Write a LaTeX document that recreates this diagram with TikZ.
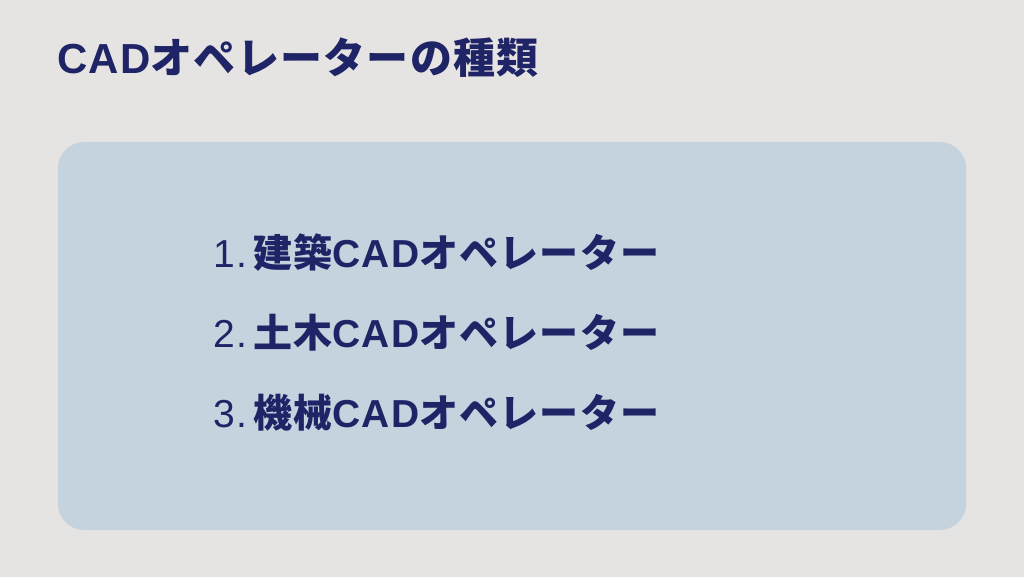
\documentclass[tikz,border=0pt]{standalone}
\usepackage{fontspec}
\newfontfamily\cjk{Noto Sans CJK JP}[LetterSpace=3]
\newfontfamily\lat{Liberation Sans}[LetterSpace=3]
\definecolor{bg}{HTML}{E6E4E2}
\definecolor{panel}{HTML}{C5D3DE}
\definecolor{navy}{HTML}{1F2466}
\tikzset{item/.style={anchor=west,inner sep=0pt,text=navy,font=\cjk\fontsize{39}{39}\selectfont}}
\begin{document}
\begin{tikzpicture}[x=1pt,y=-1pt]
\fill[bg] (0,0) rectangle (1024,577);
\useasboundingbox (0,0) rectangle (1024,577);
\node[anchor=west,inner sep=0pt,text=navy,font=\cjk\bfseries\fontsize{42}{42}\selectfont] (title) at (57,58) {{\lat\bfseries CAD}オペレーターの種類};
\fill[panel,rounded corners=26pt] (58,142) rectangle (966,530);
\node[item] (i1) at (213,253) {{\lat 1.\,}\textbf{建築{\lat CAD}オペレーター}};
\node[item] (i2) at (213,333) {{\lat 2.\,}\textbf{土木{\lat CAD}オペレーター}};
\node[item] (i3) at (213,413) {{\lat 3.\,}\textbf{機械{\lat CAD}オペレーター}};
\end{tikzpicture}
\end{document}
